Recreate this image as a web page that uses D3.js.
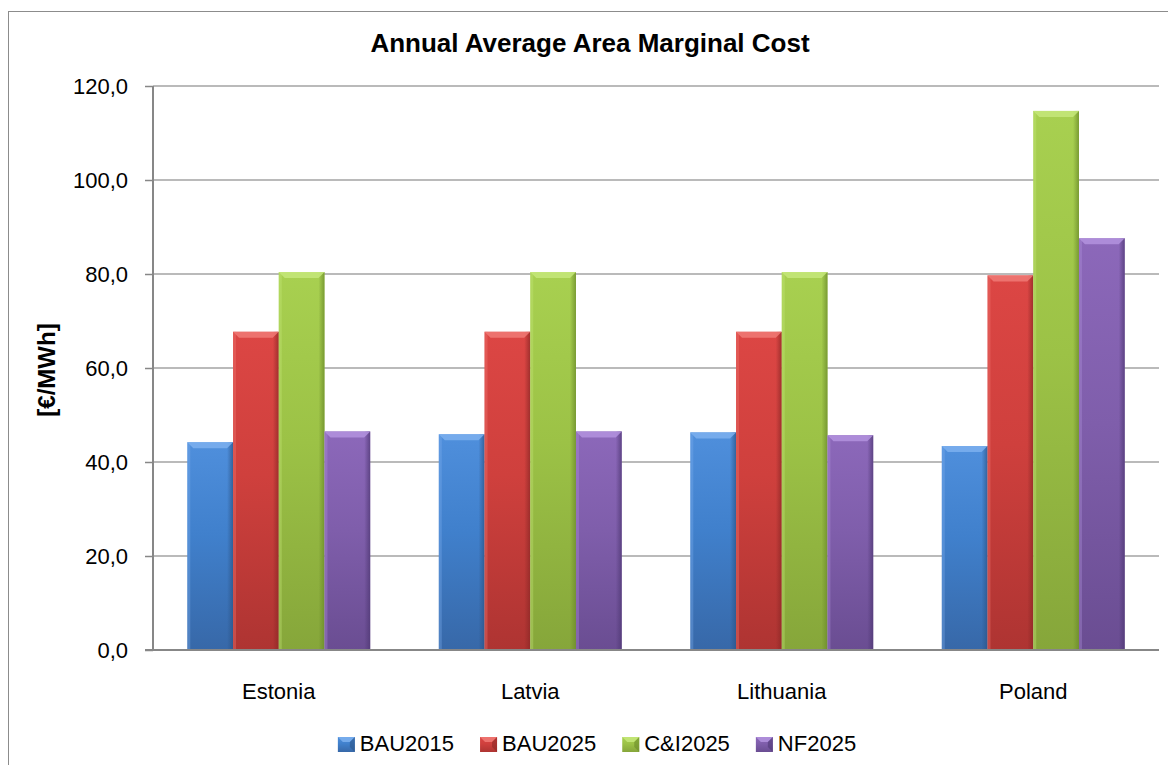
<!DOCTYPE html>
<html>
<head>
<meta charset="utf-8">
<script src="https://cdn.jsdelivr.net/npm/d3@7"></script>
<style>
  html, body { margin: 0; padding: 0; background: #fff; }
  svg { display: block; font-family: "Liberation Sans", Arial, sans-serif; }
</style>
</head>
<body>
<div id="chart"></div>
<script>
const categories = ["Estonia", "Latvia", "Lithuania", "Poland"];
const seriesNames = ["BAU2015", "BAU2025", "C&I2025", "NF2025"];
const bau2015 = [44.2, 45.9, 46.3, 43.4];
const bau2025 = [67.7, 67.7, 67.7, 79.7];
const ci2025 = [80.4, 80.4, 80.4, 114.7];
const nf2025 = [46.5, 46.5, 45.7, 87.6];
const yTicks = [0, 20, 40, 60, 80, 100, 120];

const seriesValues = [bau2015, bau2025, ci2025, nf2025];
const colors = [
    { top: "#4f8fdc", mid: "#4080cc", bot: "#3768a8", light: "#7db0ee", dark: "#2c5588" },
    { top: "#dc4644", mid: "#cf403d", bot: "#ae3432", light: "#f07a76", dark: "#8c2826" },
    { top: "#a8d050", mid: "#9cc246", bot: "#86a63a", light: "#c6e77a", dark: "#6a8a2a" },
    { top: "#8c68ba", mid: "#7f5eab", bot: "#6a4d92", light: "#b393de", dark: "#4f3874" }
];

const width = 1168;
const height = 765;
const margin = { left: 153, right: 9, top: 86, bottom: 115 };
const plotW = width - margin.left - margin.right;
const plotH = height - margin.top - margin.bottom;

const svg = d3.select("#chart").append("svg")
    .attr("width", width)
    .attr("height", height);

// chart frame (right and bottom edges run past the picture)
svg.append("rect")
    .attr("x", 8.5).attr("y", 11.5)
    .attr("width", 1200).attr("height", 800)
    .attr("fill", "none")
    .attr("stroke", "#8c8c8c")
    .attr("stroke-width", 1);

const defs = svg.append("defs");
colors.forEach((c, i) => {
    const g = defs.append("linearGradient").attr("id", "body" + i)
        .attr("x1", 0).attr("y1", 0).attr("x2", 0).attr("y2", 1);
    g.append("stop").attr("offset", "0%").attr("stop-color", c.top);
    g.append("stop").attr("offset", "45%").attr("stop-color", c.mid);
    g.append("stop").attr("offset", "100%").attr("stop-color", c.bot);
    const s = defs.append("linearGradient").attr("id", "side" + i)
        .attr("x1", 0).attr("y1", 0).attr("x2", 1).attr("y2", 0);
    s.append("stop").attr("offset", "0%").attr("stop-color", c.dark).attr("stop-opacity", 0);
    s.append("stop").attr("offset", "100%").attr("stop-color", c.dark).attr("stop-opacity", 0.75);
});

const x0 = d3.scaleBand().domain(categories).range([0, plotW]).padding(0);
const barW = x0.bandwidth() / 5.5;
const x1 = d3.scaleBand().domain(d3.range(seriesNames.length))
    .range([barW * 0.75, x0.bandwidth() - barW * 0.75]).padding(0);
const y = d3.scaleLinear().domain([0, 120]).range([plotH, 0]);

const plot = svg.append("g").attr("transform", `translate(${margin.left},${margin.top})`);

// gridlines
plot.append("g").selectAll("line")
    .data(yTicks.filter(t => t > 0))
    .join("line")
    .attr("x1", 0).attr("x2", plotW)
    .attr("y1", d => y(d)).attr("y2", d => y(d))
    .attr("stroke", "#a3a3a3")
    .attr("stroke-width", 1.3);

// bars
const rows = [];
categories.forEach((cat, ci) => {
    seriesValues.forEach((vals, si) => rows.push({ cat, si, v: vals[ci] }));
});

const bars = plot.append("g").selectAll("g")
    .data(rows)
    .join("g")
    .attr("transform", d => `translate(${x0(d.cat) + x1(d.si)},0)`);

const bw = x1.bandwidth();
const bev = 6;
bars.append("rect")
    .attr("x", 0).attr("y", d => y(d.v))
    .attr("width", bw).attr("height", d => y(0) - y(d.v))
    .attr("fill", d => `url(#body${d.si})`);
bars.append("rect")
    .attr("x", bw - bev).attr("y", d => y(d.v))
    .attr("width", bev).attr("height", d => y(0) - y(d.v))
    .attr("fill", d => `url(#side${d.si})`);
bars.append("rect")
    .attr("x", 0).attr("y", d => y(d.v))
    .attr("width", 3).attr("height", d => y(0) - y(d.v))
    .attr("fill", d => colors[d.si].light)
    .attr("opacity", 0.35);
bars.append("path")
    .attr("d", d => {
        const t = y(d.v);
        return `M0,${t}L${bw},${t}L${bw - bev},${t + bev}L${bev},${t + bev}Z`;
    })
    .attr("fill", d => colors[d.si].light)
    .attr("opacity", 0.85);

// y axis
const yAxis = plot.append("g")
    .call(d3.axisLeft(y).tickValues(yTicks).tickSize(8).tickPadding(17)
        .tickFormat(d => d3.format(".1f")(d).replace(".", ",")));
yAxis.select(".domain").attr("stroke", "#878787").attr("stroke-width", 2)
    .attr("d", `M0,${plotH}V0`);
yAxis.selectAll(".tick line").attr("stroke", "#878787").attr("stroke-width", 1.5);
yAxis.selectAll(".tick text")
    .attr("font-family", "Liberation Sans, Arial, sans-serif")
    .attr("font-size", 22).attr("fill", "#000").attr("dy", "0.36em");

// x axis
const xAxis = plot.append("g").attr("transform", `translate(0,${plotH})`)
    .call(d3.axisBottom(x0).tickSize(0).tickPadding(33));
xAxis.select(".domain").attr("stroke", "#878787").attr("stroke-width", 2)
    .attr("d", `M-8,0H${plotW}`);
xAxis.selectAll(".tick text")
    .attr("font-family", "Liberation Sans, Arial, sans-serif")
    .attr("font-size", 22).attr("fill", "#000").attr("dy", "0.71em");

// title
svg.append("text")
    .attr("x", 590).attr("y", 52)
    .attr("text-anchor", "middle")
    .attr("font-size", 26).attr("font-weight", "bold")
    .text("Annual Average Area Marginal Cost");

// y axis title
svg.append("text")
    .attr("transform", "translate(55,370) rotate(-90)")
    .attr("text-anchor", "middle")
    .attr("font-size", 24).attr("font-weight", "bold")
    .text("[€/MWh]");

// legend
const legend = svg.append("g");
let lx = 0;
seriesNames.forEach((name, i) => {
    const item = legend.append("g").attr("transform", `translate(${lx},0)`);
    item.append("rect").attr("x", 0).attr("y", 737).attr("width", 17).attr("height", 15)
        .attr("fill", `url(#body${i})`);
    item.append("path")
        .attr("d", "M0,737L17,737L12,742L5,742Z")
        .attr("fill", colors[i].light).attr("opacity", 0.85);
    item.append("path")
        .attr("d", "M17,737L17,752L12,747L12,742Z")
        .attr("fill", colors[i].dark).attr("opacity", 0.6);
    const t = item.append("text")
        .attr("x", 22).attr("y", 751)
        .attr("font-size", 22)
        .text(name);
    lx += 22 + t.node().getComputedTextLength() + 26;
});
const legendW = lx - 26;
legend.attr("transform", `translate(${597 - legendW / 2},0)`);
</script>
</body>
</html>
